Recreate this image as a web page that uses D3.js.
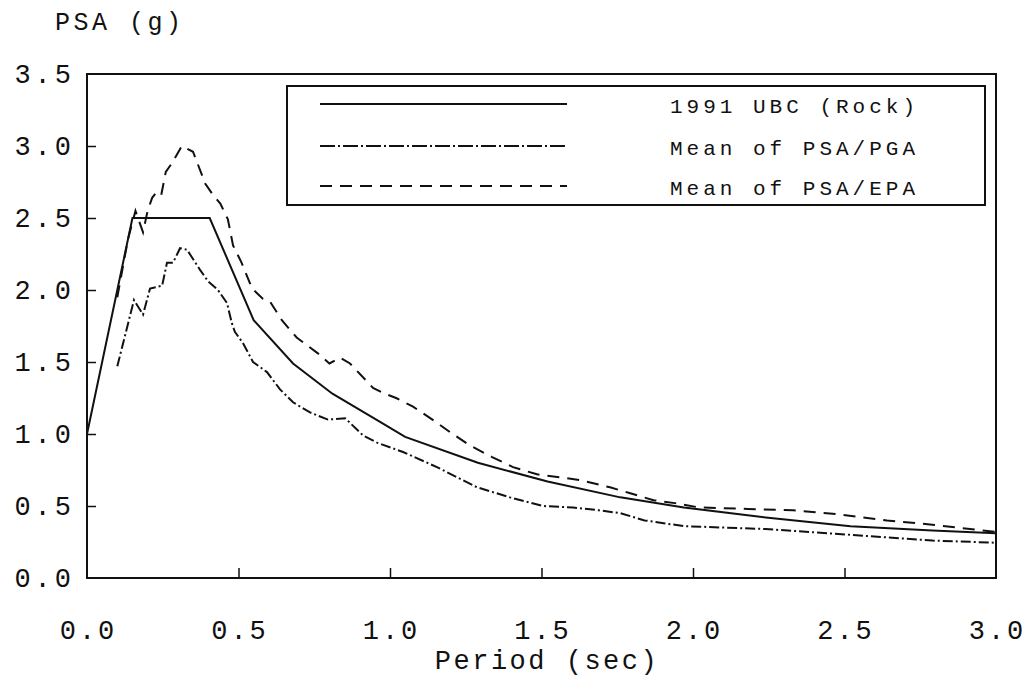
<!DOCTYPE html>
<html>
<head>
<meta charset="utf-8">
<script src="https://cdn.jsdelivr.net/npm/d3@7"></script>
<style>
  body { margin: 0; background: #fff; }
  text { font-family: "Liberation Mono", "DejaVu Sans Mono", monospace; fill: #111; }
</style>
</head>
<body>
<svg id="chart" width="1034" height="677"></svg>
<script>
// period (sec) and PSA (g)
var ubcT   = [0, 0.15, 0.405, 0.55, 0.68, 0.81, 0.97, 1.05, 1.29, 1.52, 1.76, 1.97, 2.24, 2.52, 2.79, 3.0];
var ubcPSA = [1.0, 2.5, 2.5, 1.79, 1.49, 1.28, 1.08, 0.98, 0.80, 0.67, 0.56, 0.49, 0.42, 0.36, 0.33, 0.31];

var pgaT   = [0.1, 0.155, 0.185, 0.208, 0.248, 0.264, 0.284, 0.307, 0.33, 0.373, 0.4, 0.432, 0.462, 0.478, 0.488,
              0.515, 0.548, 0.594, 0.637, 0.68, 0.736, 0.795, 0.852, 0.911, 0.957, 1.043, 1.155, 1.287, 1.396,
              1.505, 1.604, 1.69, 1.76, 1.84, 1.97, 2.24, 2.52, 2.79, 3.0];
var pgaPSA = [1.47, 1.93, 1.83, 2.01, 2.03, 2.19, 2.19, 2.29, 2.28, 2.14, 2.06, 2.0, 1.91, 1.77, 1.71,
              1.63, 1.5, 1.43, 1.31, 1.22, 1.15, 1.10, 1.11, 0.99, 0.94, 0.875, 0.77, 0.63, 0.56,
              0.50, 0.49, 0.47, 0.45, 0.40, 0.36, 0.34, 0.30, 0.26, 0.245];

var epaT   = [0.1, 0.135, 0.16, 0.185, 0.2, 0.215, 0.23, 0.245, 0.26, 0.28, 0.313, 0.35, 0.39, 0.416, 0.44,
              0.465, 0.482, 0.51, 0.545, 0.58, 0.604, 0.643, 0.692, 0.762, 0.8, 0.835, 0.868, 0.944, 0.983,
              1.02, 1.076, 1.14, 1.2, 1.264, 1.337, 1.406, 1.485, 1.56, 1.627, 1.726, 1.79, 1.87, 1.94,
              2.02, 2.18, 2.33, 2.49, 2.64, 2.79, 3.0];
var epaPSA = [1.95, 2.35, 2.55, 2.4, 2.55, 2.64, 2.68, 2.66, 2.82, 2.88, 3.0, 2.96, 2.74, 2.66, 2.6,
              2.49, 2.31, 2.19, 2.01, 1.94, 1.92, 1.79, 1.67, 1.56, 1.49, 1.53, 1.49, 1.32, 1.28,
              1.25, 1.19, 1.10, 1.01, 0.92, 0.84, 0.77, 0.72, 0.70, 0.68, 0.63, 0.59, 0.54, 0.52,
              0.49, 0.48, 0.47, 0.44, 0.40, 0.37, 0.32];

var xTicks = [0, 0.5, 1.0, 1.5, 2.0, 2.5, 3.0];
var yTicks = [0, 0.5, 1.0, 1.5, 2.0, 2.5, 3.0, 3.5];
var legendNames = ["1991 UBC (Rock)", "Mean of PSA/PGA", "Mean of PSA/EPA"];

var svg = d3.select("#chart");
var x = d3.scaleLinear().domain([0, 3]).range([87, 996]);
var y = d3.scaleLinear().domain([0, 3.5]).range([578, 74]);

var styles = [
  { dash: null },
  { dash: "10,3,2,3" },
  { dash: "12,8" }
];

var series = [
  d3.zip(ubcT, ubcPSA),
  d3.zip(pgaT, pgaPSA),
  d3.zip(epaT, epaPSA)
];

var line = d3.line()
  .x(function (d) { return x(d[0]); })
  .y(function (d) { return y(d[1]); });

// frame
svg.append("rect")
  .attr("x", x(0)).attr("y", y(3.5))
  .attr("width", x(3) - x(0)).attr("height", y(0) - y(3.5))
  .attr("fill", "none").attr("stroke", "#111").attr("stroke-width", 2);

// inward ticks
var xAxis = d3.axisTop(x).tickValues(xTicks.slice(1, -1)).tickSize(10).tickFormat("");
svg.append("g").attr("transform", "translate(0," + y(0) + ")").call(xAxis)
  .call(function (g) { g.select(".domain").remove(); })
  .selectAll("line").attr("stroke", "#111").attr("stroke-width", 1.5);

var yAxis = d3.axisRight(y).tickValues(yTicks.slice(1, -1)).tickSize(9).tickFormat("");
svg.append("g").attr("transform", "translate(" + x(0) + ",0)").call(yAxis)
  .call(function (g) { g.select(".domain").remove(); })
  .selectAll("line").attr("stroke", "#111").attr("stroke-width", 1.5);

// tick labels
svg.append("g").selectAll("text").data(yTicks).enter().append("text")
  .attr("x", 75).attr("y", function (d) { return y(d) + 9; })
  .attr("text-anchor", "end")
  .style("font-size", "27px").style("letter-spacing", "4px")
  .text(function (d) { return d.toFixed(1); });

svg.append("g").selectAll("text").data(xTicks).enter().append("text")
  .attr("x", function (d) { return x(d) + 1.5; }).attr("y", 639)
  .attr("text-anchor", "middle")
  .style("font-size", "27px").style("letter-spacing", "3px")
  .text(function (d) { return d.toFixed(1); });

svg.append("text")
  .attr("x", 547).attr("y", 669).attr("text-anchor", "middle")
  .style("font-size", "27px").style("letter-spacing", "2.5px")
  .text("Period (sec)");

svg.append("text")
  .attr("x", 55).attr("y", 30)
  .style("font-size", "25px").style("letter-spacing", "3.5px")
  .text("PSA (g)");

// curves
svg.append("g").selectAll("path").data(series).enter().append("path")
  .attr("d", line)
  .attr("fill", "none")
  .attr("stroke", "#111")
  .attr("stroke-width", 2)
  .attr("stroke-dasharray", function (d, i) { return styles[i].dash; });

// legend
var legend = svg.append("g");
legend.append("rect")
  .attr("x", 287).attr("y", 86).attr("width", 698).attr("height", 119)
  .attr("fill", "#fff").attr("stroke", "#111").attr("stroke-width", 2);

var rows = legend.selectAll("g.row").data(legendNames).enter().append("g")
  .attr("class", "row")
  .attr("transform", function (d, i) { return "translate(0," + [104, 146, 186][i] + ")"; });

rows.append("line")
  .attr("x1", 320).attr("x2", 567).attr("y1", 0).attr("y2", 0)
  .attr("stroke", "#111").attr("stroke-width", 2)
  .attr("stroke-dasharray", function (d, i) { return i == 1 ? "15,3,2,3" : styles[i].dash; });

rows.append("text")
  .attr("x", 670).attr("y", 9)
  .style("font-size", "21px").style("letter-spacing", "4px")
  .text(function (d) { return d; });
</script>
</body>
</html>
